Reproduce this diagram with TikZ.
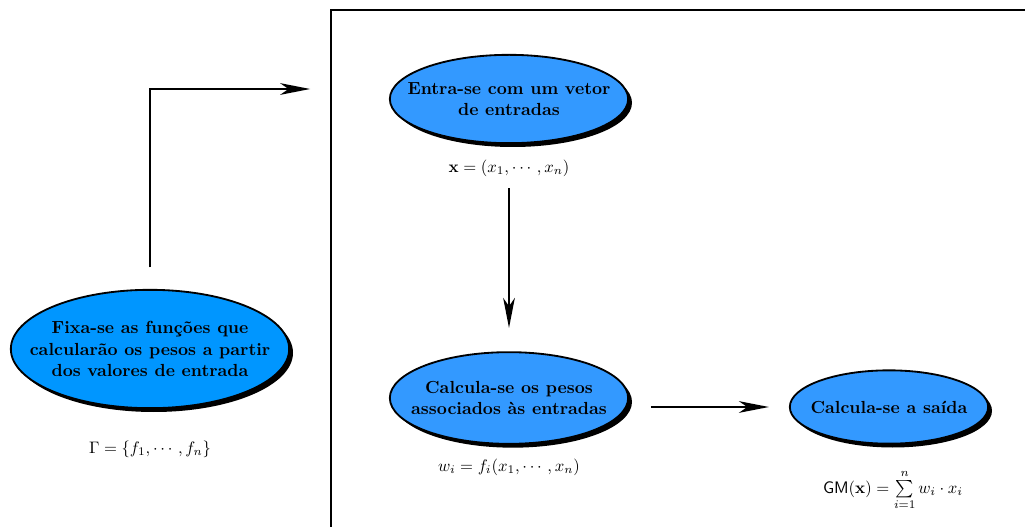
\documentclass[tikz,border=0pt]{standalone}
\usepackage{amsmath}
\usepackage{amssymb}
\usepackage{bm}
\usetikzlibrary{arrows.meta,positioning,shadows,shapes.geometric}
\definecolor{fixblue}{RGB}{0,150,255}
\definecolor{stepblue}{RGB}{51,153,255}
\tikzset{>={Stealth[length=18pt,width=7pt,inset=5pt]},
         x=0.6pt, y=-0.6pt}
\tikzstyle{etapa}=[ellipse, draw, line width=1.1pt, fill=stepblue,
   align=center, font=\fontsize{10.5}{12.9}\selectfont\bfseries,
   inner xsep=-22pt, inner ysep=-5pt,
   drop shadow={shadow xshift=2.3pt, shadow yshift=-2.3pt,
                fill=black, opacity=1}]
\tikzstyle{rotulo}=[inner sep=2pt, font=\fontsize{10.4}{12.6}\selectfont]
\tikzstyle{seta}=[->, line width=1.2pt]

\begin{document}
\begin{tikzpicture}
  \clip (0,0) rectangle (1025,527);
  % moldura do processo
  \draw[line width=1.2pt] (331,10) rectangle (1045,545);
  \coordinate (entrada) at (331,89);

  \node[etapa, fill=fixblue, minimum width=167pt, minimum height=71pt]
     (fixa) at (150,349)
     {Fixa-se as funções que\\ calcularão os pesos a partir\\ dos valores de entrada};
  \node[rotulo] (gama) at (150,449) {$\Gamma=\{f_1,\cdots,f_n\}$};

  \node[etapa, minimum width=143pt, minimum height=53pt]
     (vetor) at (509,99) {Entra-se com um vetor\\ de entradas};
  \node[rotulo] (x) at (509,168) {$\mathbf{x}=(x_1,\cdots,x_n)$};

  \node[etapa, minimum width=143pt, minimum height=55pt]
     (pesos) at (509,398) {Calcula-se os pesos\\ associados às entradas};
  \node[rotulo] (w) at (509,467) {$w_i=f_i(x_1,\cdots,x_n)$};

  \node[etapa, minimum width=119pt, minimum height=44pt]
     (saida) at (889,407) {Calcula-se a saída};
  \node[rotulo] (gm) at (893,490)
     {$\mathsf{GM}(\mathbf{x})=\sum\limits_{i=1}^{n} w_i\cdot x_i$};

  % conexoes
  \draw[seta, shorten <=13pt, shorten >=12.5pt] (fixa) |- (entrada);
  \draw[seta, shorten <=5pt, shorten >=14pt] (x) -- (pesos);
  \draw[seta, shorten <=13pt, shorten >=12pt] (pesos.east |- saida) -- (saida.west);
\end{tikzpicture}
\end{document}
